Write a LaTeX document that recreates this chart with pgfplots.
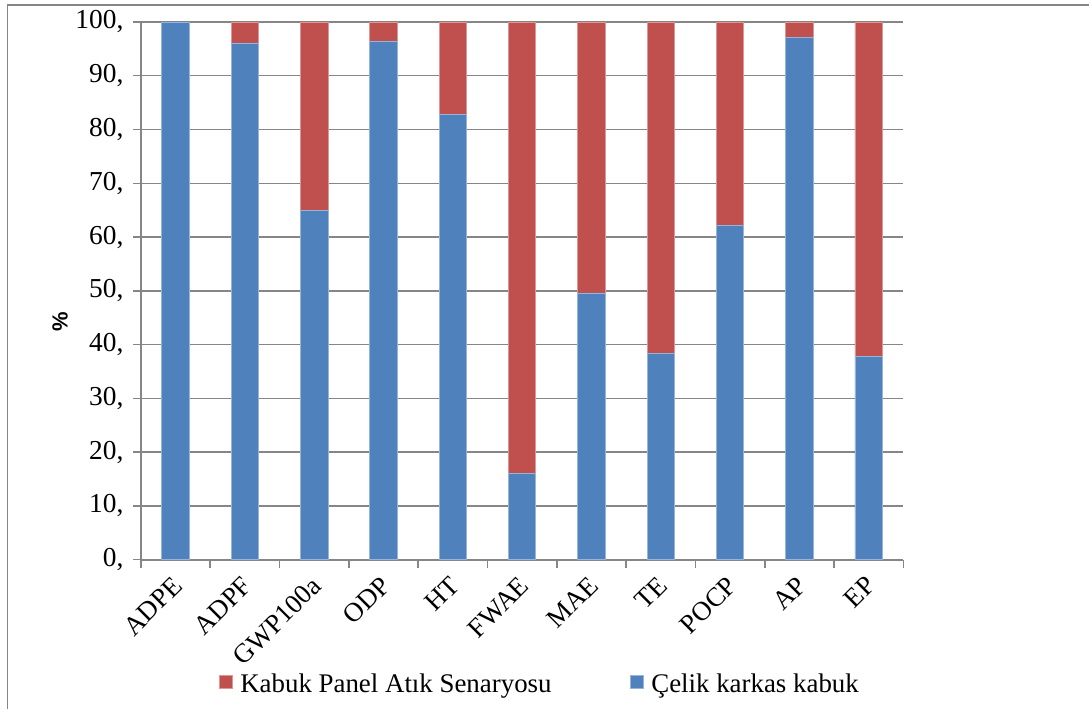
\documentclass[border=0pt]{standalone}
\usepackage{fontspec}
\setmainfont{Liberation Serif}
\newfontfamily\labelsans{Liberation Sans}
\usepackage{pgfplots}
\pgfplotsset{compat=1.18}

\definecolor{barblue}{HTML}{4F81BD}
\definecolor{barred}{HTML}{C0504D}
\definecolor{gridgray}{HTML}{868686}

\begin{document}
\begin{tikzpicture}
% page size and outer frame
\path (0,0) rectangle (1090bp,709bp);
\draw[gridgray, line width=1.5bp] (7.5bp,0) -- (7.5bp,704bp) -- (1090bp,704bp);

\begin{axis}[
  at={(141bp,149bp)}, anchor=south west,
  scale only axis, width=763bp, height=538bp,
  ybar stacked, bar width=27.5bp,
  xmin=-0.5, xmax=10.5, ymin=0, ymax=100,
  axis x line*=bottom, axis y line*=left,
  axis line style={gridgray, line width=2bp, -},
  xtick={0,...,10},
  xticklabels={ADPE,ADPF,GWP100a,ODP,HT,FWAE,MAE,TE,POCP,AP,EP},
  minor xtick={-0.5,0.5,...,10.5},
  major x tick style={draw=none},
  minor x tick style={gridgray, line width=1.5bp},
  minor tick length=8bp,
  ytick={0,10,...,100},
  yticklabel={\pgfmathprintnumber{\tick},},
  y tick style={gridgray, line width=1.5bp},
  major tick length=8bp,
  tick align=outside,
  ymajorgrids,
  grid style={gridgray, line width=1.5bp},
  /pgf/number format/assume math mode=true,
  tick label style={font=\fontsize{27.5}{32}\selectfont},
  yticklabel style={xshift=-6bp},
  xticklabel style={rotate=45, anchor=north east, inner sep=0bp,
    font=\fontsize{27}{32}\selectfont, xshift=-8bp, yshift=-2bp},
  ylabel={\%},
  every axis y label/.style={at={(-0.106,0.442)}, anchor=center, rotate=90,
    font=\labelsans\bfseries\fontsize{22}{26}\selectfont},
  legend columns=2,
  reverse legend,
  legend style={at={(0.523,-0.232)}, anchor=center, draw=none, fill=none,
    font=\fontsize{27}{32}\selectfont,
    /tikz/every even column/.append style={column sep=76bp}},
  legend image code/.code={\fill[#1] (0bp,-4bp) rectangle (13bp,9bp);
    \path (19bp,0bp);},
]
\addplot[fill=barblue, draw={rgb,255:red,150;green,180;blue,220}, line width=0.8bp]
  coordinates {(0,100) (1,96.1) (2,64.9) (3,96.3) (4,82.8) (5,16.0) (6,49.6) (7,38.3) (8,62.1) (9,97.1) (10,37.8)};
\addlegendentry{Çelik karkas kabuk}
\addplot[fill=barred, draw={rgb,255:red,225;green,150;blue,150}, line width=0.8bp]
  coordinates {(0,0) (1,3.9) (2,35.1) (3,3.7) (4,17.2) (5,84.0) (6,50.4) (7,61.7) (8,37.9) (9,2.9) (10,62.2)};
\addlegendentry{Kabuk Panel Atık Senaryosu}
\end{axis}
\end{tikzpicture}
\end{document}
